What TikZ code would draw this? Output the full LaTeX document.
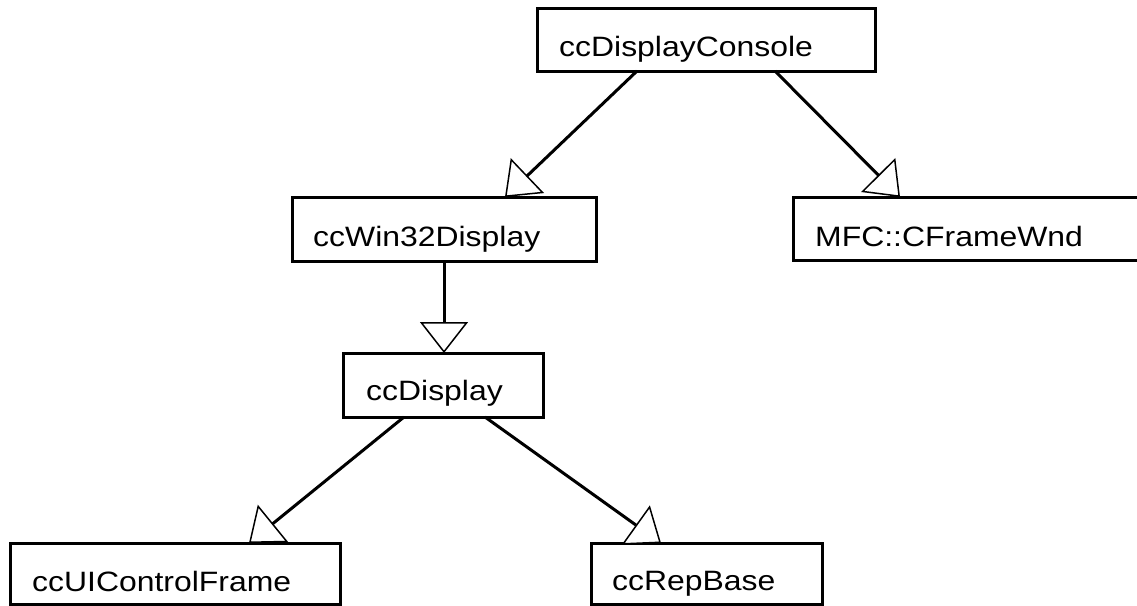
\documentclass[tikz,border=0pt]{standalone}
\usepackage{fontspec}
\setmainfont{Liberation Sans}[FakeStretch=1.14]
\usetikzlibrary{arrows.meta,calc}
\begin{document}
\begin{tikzpicture}[x=1pt,y=-1pt,
  box/.style={draw, line width=3pt, fill=white, inner sep=0pt, outer sep=0pt, anchor=north west},
  lbl/.style={inner sep=0pt, anchor=base west, font=\fontsize{28}{30}\selectfont},
  gen/.style={line width=3pt, -{Triangle[length=31pt,width=48pt,line width=1.5pt,fill=white]}}]
\useasboundingbox[fill=white] (0,0) rectangle (1137,605);
% boxes
\node[box, minimum width=338pt, minimum height=63pt] (console) at (537,8) {};
\node[box, minimum width=304pt, minimum height=64pt] (win32) at (292,197) {};
\node[box, minimum width=350pt, minimum height=63pt] (mfc) at (793,197) {};
\node[box, minimum width=200pt, minimum height=64pt] (disp) at (343,353) {};
\node[box, minimum width=330pt, minimum height=61.5pt] (ui) at (10,543) {};
\node[box, minimum width=231pt, minimum height=61.5pt] (rep) at (591,543) {};
% labels
\node[lbl] (tconsole) at ($(console.north west)+(22,48)$) {ccDisplayConsole};
\node[lbl] (twin32) at ($(win32.north west)+(21,49)$) {ccWin32Display};
\node[lbl] (tmfc) at ($(mfc.north west)+(22,49)$) {MFC::CFrameWnd};
\node[lbl] (tdisp) at ($(disp.north west)+(23,47)$) {ccDisplay};
\node[lbl] (tui) at ($(ui.north west)+(22,48)$) {ccUIControlFrame};
\node[lbl] (trep) at ($(rep.north west)+(21,47)$) {ccRepBase};
% connector end points
\coordinate (cs1) at ($(console.south west)+(100,0)$);
\coordinate (cs2) at ($(console.south west)+(238,0)$);
\coordinate (wn) at ($(win32.north west)+(213,0)$);
\coordinate (mn) at ($(mfc.north west)+(107,0)$);
\coordinate (ds1) at ($(disp.south west)+(61,0)$);
\coordinate (ds2) at ($(disp.south west)+(142,0)$);
\coordinate (un) at ($(ui.north west)+(239,0)$);
\coordinate (rn) at ($(rep.north west)+(70,0)$);
% connectors
\draw[gen] (cs1) -- (wn);
\draw[gen] (cs2) -- (mn);
\draw[gen] (win32.south) -- (win32.south |- disp.north);
\draw[gen] (ds1) -- (un);
\draw[gen] (ds2) -- (rn);
\end{tikzpicture}
\end{document}
